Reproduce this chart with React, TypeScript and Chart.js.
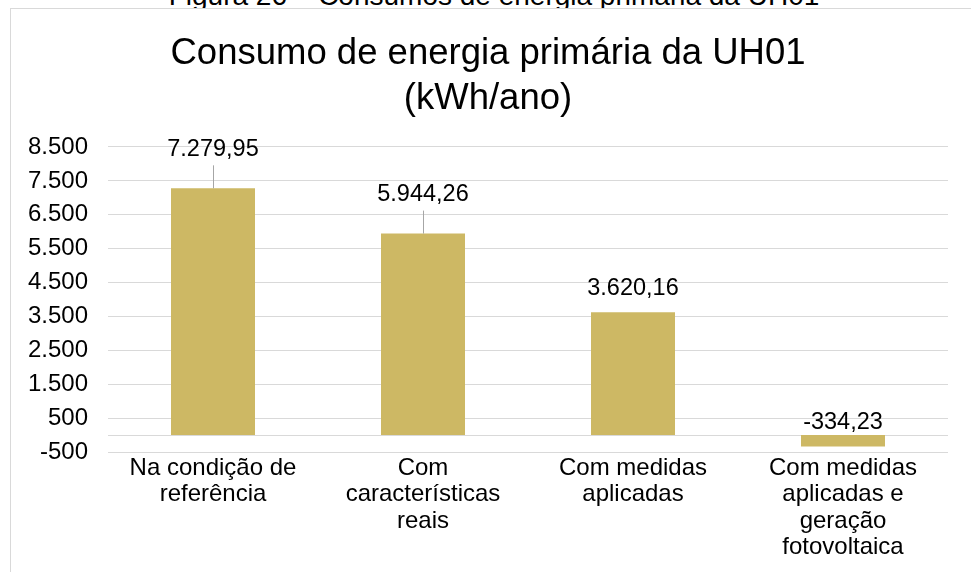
import React, { useEffect, useRef } from "react";
import { Chart, registerables } from "chart.js";

Chart.register(...registerables);

const categories: string[][] = [
  ["Na condição de", "referência"],
  ["Com", "características", "reais"],
  ["Com medidas", "aplicadas"],
  ["Com medidas", "aplicadas e", "geração", "fotovoltaica"],
];
const values: number[] = [7279.95, 5944.26, 3620.16, -334.23];
const yMin = -500;
const yMax = 8500;
const yStep = 1000;
const titleLines: string[] = ["Consumo de energia primária da UH01", "(kWh/ano)"];
const captionText = "Figura 26 – Consumos de energia primária da UH01";

const FONT = "'Liberation Sans', Arial, sans-serif";
const BAR = "#CDB864";
const GRID = "#D9D9D9";

const fmt = (v: number) =>
  v.toLocaleString("pt-BR", { minimumFractionDigits: 2, maximumFractionDigits: 2 });
const fmtTick = (v: number) => v.toLocaleString("pt-BR", { maximumFractionDigits: 0 });

// extra lift (px) of data labels above default position (leader line drawn when > 0)
const labelLift = [15, 15, 0, -11];

const zeroLinePlugin = {
  id: "zeroLine",
  beforeDatasetsDraw(chart: any) {
    const { ctx, chartArea, scales } = chart;
    const y = Math.round(scales.y.getPixelForValue(0)) + 0.5;
    ctx.save();
    ctx.strokeStyle = GRID;
    ctx.lineWidth = 1;
    ctx.beginPath();
    ctx.moveTo(chartArea.left, y);
    ctx.lineTo(chartArea.right, y);
    ctx.stroke();
    ctx.restore();
  },
};

const dataLabelPlugin = {
  id: "dataLabels",
  afterDatasetsDraw(chart: any) {
    const { ctx } = chart;
    const meta = chart.getDatasetMeta(0);
    ctx.save();
    ctx.font = `23.5px ${FONT}`;
    ctx.fillStyle = "#000";
    ctx.textAlign = "center";
    ctx.textBaseline = "middle";
    meta.data.forEach((el: any, i: number) => {
      const anchor = Math.min(el.y, el.base);
      const ly = anchor - 24 - labelLift[i];
      if (labelLift[i] > 0) {
        ctx.strokeStyle = "#A6A6A6";
        ctx.lineWidth = 1;
        ctx.beginPath();
        ctx.moveTo(Math.round(el.x) + 0.5, ly + 16);
        ctx.lineTo(Math.round(el.x) + 0.5, anchor);
        ctx.stroke();
      }
      ctx.fillText(fmt(values[i]), el.x, ly);
    });
    ctx.restore();
  },
};

export default function App() {
  const ref = useRef<HTMLCanvasElement>(null);
  useEffect(() => {
    if (!ref.current) return;
    const chart = new Chart(ref.current, {
      type: "bar",
      data: {
        labels: categories,
        datasets: [
          {
            data: values,
            backgroundColor: BAR,
            borderWidth: 0,
            barPercentage: 0.4,
            categoryPercentage: 1,
          },
        ],
      },
      options: {
        responsive: false,
        animation: false,
        layout: { padding: { top: 0, left: 28, right: 23, bottom: 0 } },
        plugins: {
          legend: { display: false },
          tooltip: { enabled: false },
          title: {
            display: true,
            text: titleLines,
            color: "#000",
            font: { family: FONT, size: 36.5, weight: "normal", lineHeight: 1.23 },
            padding: { top: 31.5, bottom: 25.7 },
          },
        },
        scales: {
          x: {
            grid: { display: false, drawTicks: false },
            border: { display: false },
            ticks: {
              color: "#000",
              font: { family: FONT, size: 24, lineHeight: 1.1 },
              padding: 3,
              maxRotation: 0,
              autoSkip: false,
            },
            afterFit(scale: any) {
              scale.height = 120;
            },
          },
          y: {
            min: yMin,
            max: yMax,
            grid: { color: GRID, drawTicks: false, lineWidth: 1 },
            border: { display: false },
            ticks: {
              stepSize: yStep,
              color: "#000",
              font: { family: FONT, size: 24 },
              padding: 20,
              callback: (v: any) => fmtTick(Number(v)),
            },
            afterFit(scale: any) {
              scale.width = 80;
            },
          },
        },
      },
      plugins: [zeroLinePlugin, dataLabelPlugin],
    });
    return () => chart.destroy();
  }, []);

  return (
    <div
      style={{
        position: "absolute",
        left: 0,
        top: 0,
        width: 971,
        height: 572,
        overflow: "hidden",
        background: "#fff",
      }}
    >
      <div
        style={{
          position: "absolute",
          left: 0,
          top: -17.7,
          width: 988,
          textAlign: "center",
          font: `28px/28px ${FONT}`,
          color: "#000",
          whiteSpace: "nowrap",
        }}
      >
        {captionText}
      </div>
      <div
        style={{
          position: "absolute",
          left: 10,
          top: 8,
          width: 1000,
          height: 700,
          border: `1px solid ${GRID}`,
          background: "#fff",
        }}
      />
      <canvas
        ref={ref}
        width={971}
        height={572}
        style={{ position: "absolute", left: 0, top: 0 }}
      />
    </div>
  );
}
